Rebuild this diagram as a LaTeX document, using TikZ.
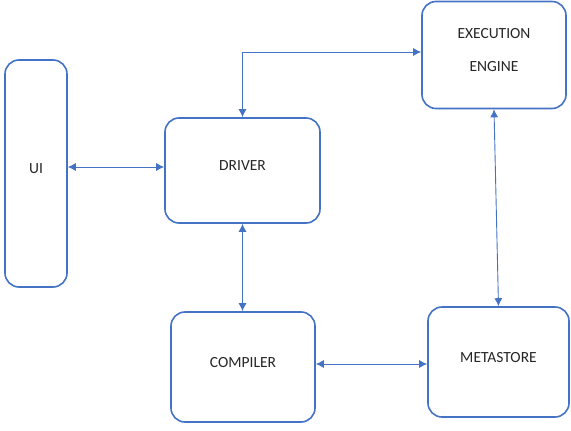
\documentclass[tikz,border=0pt]{standalone}
\usepackage{fontspec}
\setmainfont{Carlito}
\usepackage{tikz}
\usetikzlibrary{arrows.meta}
\definecolor{boxblue}{RGB}{68,114,196}
\definecolor{textgray}{RGB}{38,38,38}
\tikzset{>={Latex[length=8pt,width=8pt]}}
\tikzset{
  block/.style={draw=boxblue, line width=1.6pt, rounded corners=14pt, rectangle,
    text=textgray, font=\fontsize{15.5}{18}\selectfont, text depth=10pt, align=center},
  link/.style={<->, draw=boxblue, line width=0.9pt}
}

\begin{document}
\begin{tikzpicture}[x=1pt, y=-1pt]
        \useasboundingbox (0,0) rectangle (571,431);
        \node [block, minimum width=62pt, minimum height=227pt] (UI) at (36,173.5) {UI};
        \node [block, minimum width=155pt, minimum height=105pt] (Driver) at (242.5,170.5) {DRIVER};
        \node [block, minimum width=144pt, minimum height=107pt] (Engine) at (494,55) {EXECUTION\\[15pt]ENGINE};
        \node [block, minimum width=144pt, minimum height=110pt] (Compiler) at (243,367) {COMPILER};
        \node [block, minimum width=141pt, minimum height=110pt] (Metastore) at (498.5,362) {METASTORE};
        \draw [link] (UI.east |- 0,167) -- (Driver.west |- 0,167);
        \draw [link] (Driver.north) |- ([yshift=3pt]Engine.west);
        \draw [link] (Driver.south) -- (Driver.south |- Compiler.north);
        \draw [link] (Engine.south) -- (Metastore.north);
        \draw [link] ([yshift=3pt]Compiler.east) -- ([yshift=3pt]Compiler.east -| Metastore.west);
    \end{tikzpicture}
\end{document}
